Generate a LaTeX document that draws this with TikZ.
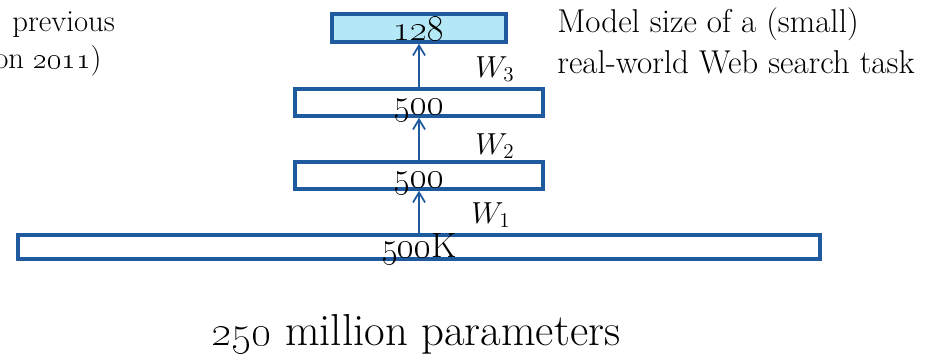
\documentclass[tikz,border=0pt]{standalone}
\usepackage{xcolor}
\usetikzlibrary{arrows.meta,positioning}
\definecolor{layerblue}{HTML}{1F5A9E}
\definecolor{topfill}{HTML}{B5E8F7}
\tikzset{
  layer/.style={rectangle, draw=layerblue, line width=2pt, fill=#1, inner sep=0pt,
                font=\fontsize{20}{22}\selectfont, text height=0.47cm, text depth=0pt,
                anchor=center},
  layer/.default=white,
  arr/.style={-{Straight Barb[length=2mm,width=2.4mm]}, line width=1pt, layerblue},
  wlab/.style={font=\fontsize{17}{20}\selectfont},
  txt/.style={font=\fontsize{17.5}{22.8}\selectfont, align=left},
}
\begin{document}
\begin{tikzpicture}[x=0.02cm,y=-0.02cm]
\useasboundingbox (0,0) rectangle (925,356);
\node[layer=topfill, minimum width=3.48cm, minimum height=0.56cm, text height=0.48cm] (out) at (419,28) {\oldstylenums{128}};
\node[layer, minimum width=4.96cm, minimum height=0.54cm] (h2) at (419,102.5) {\oldstylenums{500}};
\node[layer, minimum width=4.96cm, minimum height=0.54cm] (h1) at (419,175.5) {\oldstylenums{500}};
\node[layer, minimum width=16.04cm, minimum height=0.48cm, text height=0.43cm] (in) at (419,247) {\oldstylenums{500}K};
\draw[arr] (in.north) -- (h1.south);
\draw[arr] (h1.north) -- (h2.south);
\draw[arr] (h2.north) -- (out.south);
\node[wlab] (w1) at (491,215) {$W_1$};
\node[wlab] (w2) at (495,146) {$W_2$};
\node[wlab] (w3) at (495,69) {$W_3$};
\node[txt, font=\fontsize{18.8}{22.8}\selectfont, anchor=base west, inner sep=0pt] (size) at (557,73) {Model size of a (small)\\real-world Web search task};
\node[txt, anchor=base west, inner sep=0pt] (prev) at (12,31) {previous};
\node[txt, anchor=base west, inner sep=0pt] (year) at (-6,68) {on \oldstylenums{2011})};
\node[anchor=base, inner sep=0pt, font=\fontsize{25.5}{30}\selectfont] (params) at (416,345) {\oldstylenums{250} million parameters};
\end{tikzpicture}
\end{document}
